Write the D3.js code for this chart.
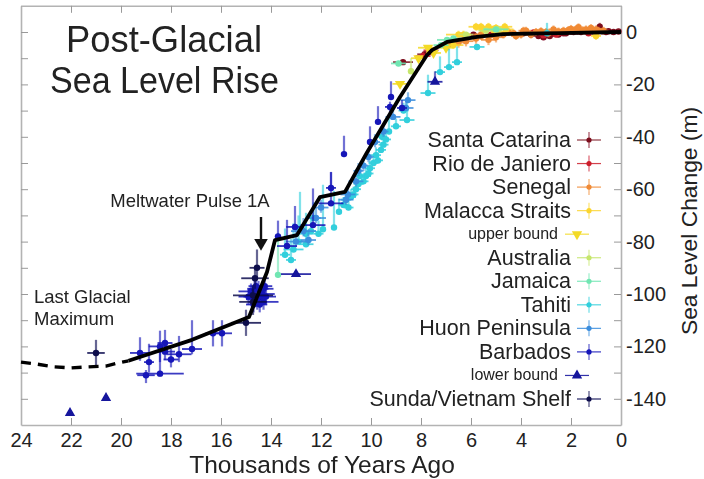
<!DOCTYPE html>
<html>
<head>
<meta charset="utf-8">
<script src="https://cdn.jsdelivr.net/npm/d3@7"></script>
<style>
  html, body { margin: 0; padding: 0; background: #fff; }
  text { font-family: "Liberation Sans", Arial, sans-serif; fill: #222; }
</style>
</head>
<body>
<svg id="chart" width="704" height="479"></svg>
<script>
////////DATA////////////////////////////////////
// each series: age (ky), level (m), age error, level error up, level error down
var santaAge = [8.72, 7.85, 5.9, 3.9, 3.6, 3.3, 3.1, 3, 2.85, 2.7, 2.5, 2.3, 2.2, 1.9, 1.75, 1.6, 1.4, 1.1, 0.9, 0.85, 0.75, 0.6, 0.5, 0.3, 0.1];
var santaLevel = [-11.5, -8.5, -1, -0.5, -1, -1.5, -2, -1.2, -1.5, -0.5, -1, -0.5, -0.5, 0, 0.2, 0, 0.3, 0.2, 0.5, 2, 0.3, 0, 0.3, 0, 0.2];
var santaAgeErr = [0.4, 0.3, 0.2, 0.2, 0.2, 0.2, 0.2, 0.2, 0.2, 0.2, 0.2, 0.2, 0.2, 0.2, 0.2, 0.2, 0.2, 0.2, 0.2, 0.05, 0.2, 0.2, 0.2, 0.2, 0.1];
var santaUp = [1, 1, 1, 1, 1, 1, 1, 1, 1, 1, 1, 1, 1, 1, 1, 1, 1, 1, 1, 1.5, 1, 1, 1, 1, 1];
var santaDown = [1, 1, 1, 1, 1, 1, 1, 1, 1, 1, 1, 1, 1, 1, 1, 1, 1, 1, 1, 1.5, 1, 1, 1, 1, 1];

var rioAge = [7.92, 7.6, 5.2, 3.5, 3.1, 2.6, 2, 1.3];
var rioLevel = [-9.2, -7, -1, -0.2, -1.2, -1, 0.2, -0.5];
var rioAgeErr = [0.3, 0.3, 0.2, 0.2, 0.2, 0.2, 0.2, 0.2];
var rioUp = [1.5, 1.5, 1, 1, 1, 1, 1, 1];
var rioDown = [1.5, 1.5, 1, 1, 1, 1, 1, 1];

var senegalAge = [6.9, 6.5, 6.2, 5.8, 5.6, 5.3, 5, 4.7, 4.5, 4.3, 4.2, 4, 3.9, 3.8, 3.6, 3.4, 3.2, 3, 2.9, 2.7, 2.5, 2.3, 2.1, 2, 1.8, 1.7, 1.5, 1.4, 1.2, 1, 0.9, 0.7];
var senegalLevel = [-5, -4, -3.5, -2.5, -1, -3, -2, -1, 0, -0.5, -1.5, -1, 0.5, 0.5, -1, 0, 0.3, 0, -0.5, 1, 0.2, 0.5, 0.8, 1.2, 1, 1.8, 0.5, 1, 1.5, 1, 0.5, 0.5];
var senegalAgeErr = [0.3, 0.3, 0.3, 0.3, 0.3, 0.3, 0.3, 0.2, 0.2, 0.2, 0.2, 0.2, 0.2, 0.2, 0.2, 0.2, 0.2, 0.2, 0.2, 0.2, 0.2, 0.2, 0.2, 0.2, 0.2, 0.2, 0.2, 0.2, 0.2, 0.2, 0.2, 0.2];
var senegalUp = [2, 2, 2, 2, 2, 2, 2, 1.5, 1.5, 1.5, 1.5, 1.5, 1.5, 1.5, 1.5, 1.5, 1.5, 1.5, 1.5, 1.5, 1.5, 1.5, 1.5, 1.5, 1.5, 1.5, 1.5, 1.5, 1.5, 1.5, 1.5, 1.5];
var senegalDown = [2, 2, 2, 2, 2, 2, 2, 1.5, 1.5, 1.5, 1.5, 1.5, 1.5, 1.5, 1.5, 1.5, 1.5, 1.5, 1.5, 1.5, 1.5, 1.5, 1.5, 1.5, 1.5, 1.5, 1.5, 1.5, 1.5, 1.5, 1.5, 1.5];

var malaccaAge = [6.7, 6.5, 6.3, 5.8, 5.6, 5.5, 5.3, 5.1, 5, 4.9, 4.65, 4.6, 1];
var malaccaLevel = [-5, -1, -1, 2, 2, 1, 2, 1, 1.5, 0, 2, 1, -1.5];
var malaccaAgeErr = [0.4, 0.5, 0.3, 0.3, 0.3, 0.3, 0.3, 0.3, 0.3, 0.3, 0.3, 0.3, 0.2];
var malaccaUp = [1.5, 1.5, 1.5, 1.5, 1.5, 1.5, 1.5, 1.5, 1.5, 1.5, 1.5, 1.5, 1.5];
var malaccaDown = [1.5, 1.5, 1.5, 1.5, 1.5, 1.5, 1.5, 1.5, 1.5, 1.5, 1.5, 1.5, 1.5];

var upperAge = [8.84, 8.1, 7.72, 7.5, 7];
var upperLevel = [-19.8, -10, -6, -8, -6];
var upperAgeErr = [0.3, 0.3, 0.4, 0.3, 0.3];
var upperUp = [1, 1, 1, 1, 1];
var upperDown = [1, 1, 1, 1, 1];

var australiaAge = [8.4, 6.2, 5.4, 4.9];
var australiaLevel = [-15, -1, 0.5, 1];
var australiaAgeErr = [0.1, 0.3, 0.3, 0.3];
var australiaUp = [5, 1, 1, 1];
var australiaDown = [1, 1, 1, 1];

var jamaicaAge = [13.72, 8.9, 7.2, 6.96, 6.7, 5];
var jamaicaLevel = [-92.7, -12, -5, -3, -2.5, 1];
var jamaicaAgeErr = [0.1, 0.3, 0.3, 0.4, 0.3, 0.5];
var jamaicaUp = [16, 1, 1, 1, 1, 1];
var jamaicaDown = [1, 1, 1, 1, 1, 1];

var tahitiAge = [13.44, 13.1, 12.84, 12.6, 12.4, 11.92, 11.48, 11.28, 10.9, 10.7, 10.5, 10.44, 10.2, 10.04, 9.9, 9.72, 9.6, 9.56, 9.28, 8.56, 7.72, 7.24, 6.88, 6.56, 5.76, 2.96, 13.2, 12.9, 12.6, 12.3, 12.1, 11.1, 11, 10.8, 10.6, 10.3, 10.1, 9.8, 9.5, 9.4, 9, 8.7];
var tahitiLevel = [-85, -83, -75, -81, -76, -75.3, -74.6, -68.6, -67, -62, -58, -55, -55, -52, -50, -49, -45, -40, -38, -33.6, -23.3, -15.3, -13.4, -11.5, -5.7, -0.5, -87, -80, -77, -71, -77, -66, -64, -63, -60, -57, -54, -47, -43, -41, -36, -30];
var tahitiAgeErr = [0.2, 0.4, 0.2, 0.3, 0.2, 0.05, 0.05, 0.05, 0.2, 0.2, 0.2, 0.2, 0.2, 0.2, 0.2, 0.2, 0.2, 0.2, 0.1, 0.3, 0.3, 0.2, 0.2, 0.2, 0.3, 0.05, 0.2, 0.2, 0.3, 0.3, 0.2, 0.2, 0.2, 0.2, 0.2, 0.2, 0.2, 0.2, 0.2, 0.2, 0.2, 0.2];
var tahitiUp = [10, 10, 14, 8, 6, 17, 14, 5, 3, 3, 3, 3, 3, 3, 3, 3, 3, 3, 6, 8, 7, 6, 7, 6, 1, 4, 8, 10, 8, 6, 5, 3, 3, 3, 3, 3, 3, 3, 3, 3, 3, 3];
var tahitiDown = [1, 1, 1, 1, 1, 0.5, 0.5, 0.5, 1, 1, 1, 1, 1, 1, 1, 1, 1, 1, 1, 1, 1, 1, 1, 1, 1, 0.5, 1, 1, 1, 1, 1, 1, 1, 1, 1, 1, 1, 1, 1, 1, 1, 1];

var huonAge = [13, 12.7, 12.5, 12.2, 12, 11, 10.92, 10.6, 10.5, 10.3, 10.1, 9.84, 9.5, 9.12, 8.6, 8.52];
var huonLevel = [-80, -76, -79.4, -71, -67, -64, -62, -57, -53, -51, -47.7, -42, -38, -32.4, -29, -26];
var huonAgeErr = [0.4, 0.5, 0.3, 0.4, 0.3, 0.3, 0.3, 0.3, 0.2, 0.2, 0.2, 0.2, 0.2, 0.3, 0.3, 0.3];
var huonUp = [6, 5, 4, 4, 3, 3, 3, 3, 3, 3, 3, 3, 3, 4, 3, 3];
var huonDown = [2, 2, 2, 2, 2, 2, 2, 2, 2, 2, 2, 2, 2, 1, 1, 1];

var barbadosAge = [19.24, 19, 18.88, 18.44, 18.44, 18.24, 18.24, 18, 17.68, 17.16, 16.32, 15.96, 14.9, 14.8, 14.7, 14.7, 14.65, 14.6, 14.6, 14.55, 14.5, 14.45, 14.4, 14.35, 14.3, 14.3, 14.25, 14.2, 13.72, 13.36, 13.04, 12.32, 11.6, 11.6, 11.08, 10.04, 9.72, 9.24, 9.2, 8.76];
var barbadosLevel = [-122.5, -131, -126, -130.4, -120, -122, -118.7, -125, -123, -121, -115, -115, -101, -99, -104, -101, -98, -102, -97, -103, -98, -104, -101, -100, -103, -98, -97, -101, -78, -81.7, -74.4, -73.7, -65.4, -59.5, -46.6, -42, -34.3, -28.6, -24.8, -29];
var barbadosAgeErr = [0.4, 0.35, 0.2, 0.95, 0.45, 0.4, 0.3, 0.3, 0.5, 0.4, 0.3, 0.4, 0.4, 0.5, 0.3, 0.4, 0.3, 0.4, 0.3, 0.2, 0.4, 0.3, 0.3, 0.5, 0.6, 0.4, 0.3, 0.4, 0.1, 0.4, 0.35, 0.5, 0.5, 0.2, 0.05, 0.1, 0.1, 0.2, 0.1, 0.2];
var barbadosUp = [6, 2, 7, 10, 6, 4, 5, 4, 7, 11, 5, 5, 3, 3, 3, 3, 3, 3, 3, 3, 3, 3, 3, 3, 3, 3, 3, 3, 6, 10, 8, 14, 12, 6, 7, 6, 6, 2, 6, 3];
var barbadosDown = [3, 3, 4, 1, 6, 3, 2, 3, 3, 2, 5, 5, 3, 3, 3, 3, 3, 3, 3, 3, 3, 3, 3, 3, 3, 3, 3, 3, 1, 1, 1, 1, 1, 1, 0.5, 1, 1, 2, 1, 1];

var lowerAge = [22.04, 20.6, 13, 7.44];
var lowerLevel = [-145.4, -139.7, -92.4, -19];
var lowerAgeErr = [0, 0, 0.6, 0.3];
var lowerUp = [0, 0, 0, 4];
var lowerDown = [0, 0, 0, 0];

var sundaAge = [21, 15, 14.72, 14.72, 14.64, 14.56];
var sundaLevel = [-122.5, -111, -103, -100.5, -94, -90];
var sundaAgeErr = [0.35, 0.6, 0.55, 0.8, 0.55, 0.3];
var sundaUp = [5, 5, 5, 4, 4, 7];
var sundaDown = [5, 5, 5, 4, 4, 4];

// black fitted curve
var curveAge = [19.7, 17.16, 14.88, 14.16, 13.84, 12.96, 12.04, 11.04, 10.16, 8.84, 7.76, 7.56, 6.96, 5.76, 4.72, 2.44, 0];
var curveLevel = [-125.5, -117.5, -108.8, -91.6, -79.4, -77.5, -63, -61, -46, -24.8, -8.8, -6.9, -3.8, -1.9, -0.8, -0.4, 0];
var dashAge = [24, 23.4, 22.7, 22, 21.3, 20.6, 20.1, 19.7];
var dashLevel = [-126, -126.7, -127.8, -128.2, -127.8, -127.5, -126.3, -125.5];

var xTicks = [24, 22, 20, 18, 16, 14, 12, 10, 8, 6, 4, 2, 0];
var yTicks = [0, -10, -20, -30, -40, -50, -60, -70, -80, -90, -100, -110, -120, -130, -140];
var yLabels = [0, -20, -40, -60, -80, -100, -120, -140];

var names = ["Santa Catarina", "Rio de Janiero", "Senegal", "Malacca Straits", "upper bound", "Australia", "Jamaica", "Tahiti", "Huon Peninsula", "Barbados", "lower bound", "Sunda/Vietnam Shelf"];
var colors = ["#7d0f1f", "#cc1f2c", "#f08a35", "#fbd52f", "#f3da25", "#c6e66c", "#6fe6b2", "#30cfdc", "#3a8ddd", "#1414b8", "#12129c", "#0a0a4c"];
var markers = ["circle", "circle", "circle", "circle", "down", "circle", "circle", "circle", "circle", "circle", "up", "circle"];

var seriesAge = [santaAge, rioAge, senegalAge, malaccaAge, upperAge, australiaAge, jamaicaAge, tahitiAge, huonAge, barbadosAge, lowerAge, sundaAge];
var seriesLevel = [santaLevel, rioLevel, senegalLevel, malaccaLevel, upperLevel, australiaLevel, jamaicaLevel, tahitiLevel, huonLevel, barbadosLevel, lowerLevel, sundaLevel];
var seriesAgeErr = [santaAgeErr, rioAgeErr, senegalAgeErr, malaccaAgeErr, upperAgeErr, australiaAgeErr, jamaicaAgeErr, tahitiAgeErr, huonAgeErr, barbadosAgeErr, lowerAgeErr, sundaAgeErr];
var seriesUp = [santaUp, rioUp, senegalUp, malaccaUp, upperUp, australiaUp, jamaicaUp, tahitiUp, huonUp, barbadosUp, lowerUp, sundaUp];
var seriesDown = [santaDown, rioDown, senegalDown, malaccaDown, upperDown, australiaDown, jamaicaDown, tahitiDown, huonDown, barbadosDown, lowerDown, sundaDown];

////////SCALES AND AXES////////////////////////////
var svg = d3.select("#chart");
var x = d3.scaleLinear().domain([24, 0]).range([21, 621]);
var y = d3.scaleLinear().domain([10, -150]).range([5.8, 425]);

var defs = svg.append("defs");
defs.append("filter").attr("id", "soft")
  .attr("filterUnits", "userSpaceOnUse").attr("x", 0).attr("y", 0).attr("width", 704).attr("height", 479)
  .append("feGaussianBlur").attr("stdDeviation", 0.75);
defs.append("filter").attr("id", "softer")
  .attr("filterUnits", "userSpaceOnUse").attr("x", 0).attr("y", 0).attr("width", 704).attr("height", 479)
  .append("feGaussianBlur").attr("stdDeviation", 0.45);

var axisColor = "#b3b3b3";
function styleAxis(g) {
  g.selectAll(".domain").attr("stroke", axisColor).attr("stroke-width", 1.6);
  g.selectAll(".tick line").attr("stroke", "#999").attr("stroke-width", 1);
  g.selectAll(".tick text").style("font-size", "20px");
}

svg.append("g").attr("transform", "translate(0,425)")
  .call(d3.axisBottom(x).tickValues(xTicks).tickFormat(d3.format("d")).tickSizeInner(-7).tickSizeOuter(0).tickPadding(8))
  .call(styleAxis);
svg.append("g").attr("transform", "translate(0,5.8)")
  .call(d3.axisTop(x).tickValues(xTicks).tickFormat("").tickSizeInner(-7).tickSizeOuter(0))
  .call(styleAxis);
svg.append("g").attr("transform", "translate(21,0)")
  .call(d3.axisLeft(y).tickValues(yTicks).tickFormat("").tickSizeInner(-7).tickSizeOuter(0))
  .call(styleAxis);
svg.append("g").attr("transform", "translate(621,0)")
  .call(d3.axisRight(y).tickValues(yTicks).tickFormat(d => yLabels.indexOf(d) >= 0 ? d : "").tickSizeInner(-7).tickSizeOuter(0).tickPadding(5))
  .call(styleAxis);

////////POINTS WITH ERROR BARS/////////////////////
var marks = svg.append("g").attr("filter", "url(#soft)");
var triangle = d3.symbol().type(d3.symbolTriangle).size(46);

function drawMarker(g, kind, px, py, color, r) {
  if (kind == "circle") {
    g.append("circle").attr("cx", px).attr("cy", py).attr("r", r).attr("fill", color);
  } else {
    g.append("path").attr("d", triangle)
      .attr("transform", "translate(" + px + "," + py + ")" + (kind == "down" ? " rotate(180)" : ""))
      .attr("fill", color);
  }
}

names.forEach((name, s) => {
  var g = marks.append("g");
  seriesAge[s].forEach((age, i) => {
    var level = seriesLevel[s][i];
    var err = seriesAgeErr[s][i];
    // vertical bars are paler than the horizontal ones in the original
    g.append("line").attr("x1", x(age)).attr("x2", x(age))
      .attr("y1", y(level + seriesUp[s][i])).attr("y2", y(level - seriesDown[s][i]))
      .attr("stroke", colors[s]).attr("stroke-width", 2.2).attr("opacity", 0.6);
    g.append("line").attr("x1", x(age + err)).attr("x2", x(age - err))
      .attr("y1", y(level)).attr("y2", y(level))
      .attr("stroke", colors[s]).attr("stroke-width", 1.8).attr("opacity", 0.85);
    drawMarker(g, markers[s], x(age), y(level), colors[s], 3.2);
  });
});

////////CURVE//////////////////////////////////////
var line = d3.line().x((d, i) => x(d)).curve(d3.curveLinear);
svg.append("path")
  .attr("d", line.y((d, i) => y(curveLevel[i]))(curveAge))
  .attr("fill", "none").attr("stroke", "#000").attr("stroke-width", 3.8).attr("stroke-linejoin", "round");
svg.append("path")
  .attr("d", line.y((d, i) => y(dashLevel[i]))(dashAge))
  .attr("fill", "none").attr("stroke", "#000").attr("stroke-width", 3.4).attr("stroke-dasharray", "10,7");

////////LEGEND/////////////////////////////////////
var legendY = d3.scalePoint().domain(names).range([140, 399]);
names.forEach((name, s) => {
  var small = name.indexOf("bound") > 0;
  var ly = legendY(name);
  svg.append("text").attr("x", small ? 558 : 571).attr("y", ly + (small ? 5 : 7))
    .attr("text-anchor", "end").style("font-size", small ? "16px" : "21.5px").text(name);
  var mx = small ? 577 : 589;
  var lg = svg.append("g").attr("filter", "url(#softer)");
  lg.append("line").attr("x1", mx - 12).attr("x2", mx + 12).attr("y1", ly).attr("y2", ly)
    .attr("stroke", colors[s]).attr("stroke-width", 1.2).attr("opacity", 0.85);
  if (!small) {
    lg.append("line").attr("x1", mx).attr("x2", mx).attr("y1", ly - 8).attr("y2", ly + 8)
      .attr("stroke", colors[s]).attr("stroke-width", 1.2).attr("opacity", 0.7);
  }
  drawMarker(lg, markers[s], mx, ly, colors[s], 2.6);
});

////////TEXT///////////////////////////////////////
svg.append("text").attr("x", 164).attr("y", 52).attr("text-anchor", "middle").style("font-size", "37px")
  .attr("textLength", 196).attr("lengthAdjust", "spacingAndGlyphs").text("Post-Glacial");
svg.append("text").attr("x", 164.5).attr("y", 93).attr("text-anchor", "middle").style("font-size", "37px")
  .attr("textLength", 229).attr("lengthAdjust", "spacingAndGlyphs").text("Sea Level Rise");
svg.append("text").attr("x", 190).attr("y", 207).attr("text-anchor", "middle").style("font-size", "18.5px").text("Meltwater Pulse 1A");
svg.append("text").attr("x", 34).attr("y", 303).style("font-size", "18.5px").text("Last Glacial");
svg.append("text").attr("x", 34).attr("y", 325).style("font-size", "18.5px").text("Maximum");
svg.append("text").attr("x", 322).attr("y", 473).attr("text-anchor", "middle").style("font-size", "24.5px").text("Thousands of Years Ago");
svg.append("text").attr("transform", "translate(697,221) rotate(-90)").attr("text-anchor", "middle").style("font-size", "22.8px").text("Sea Level Change (m)");

// arrow for the meltwater pulse
svg.append("line").attr("x1", 261).attr("x2", 261).attr("y1", 217).attr("y2", 240).attr("stroke", "#111").attr("stroke-width", 2.4);
svg.append("path").attr("d", d3.symbol().type(d3.symbolTriangle).size(80))
  .attr("transform", "translate(261,243) rotate(180)").attr("fill", "#111");
</script>
</body>
</html>
